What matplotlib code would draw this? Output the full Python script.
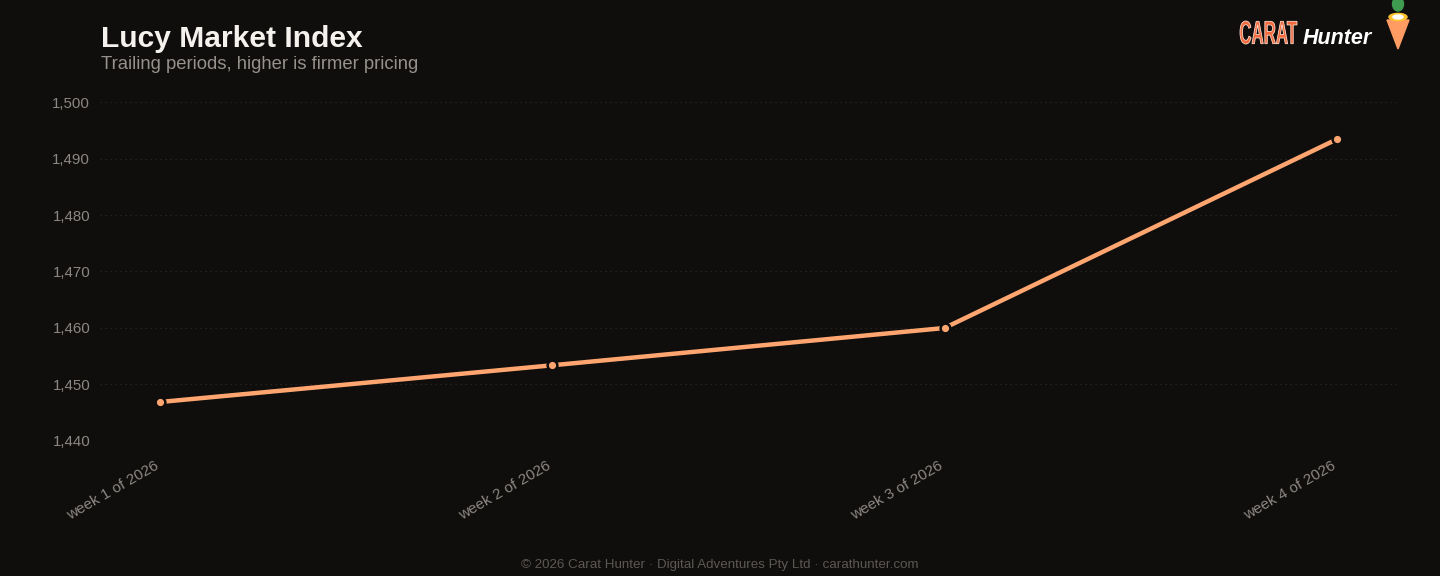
import numpy as np
import matplotlib.pyplot as plt
from matplotlib.patches import Polygon, Ellipse, Circle, PathPatch
from matplotlib.textpath import TextPath
from matplotlib.font_manager import FontProperties
from matplotlib.transforms import Affine2D, ScaledTranslation, IdentityTransform

weeks = ['week 1 of 2026', 'week 2 of 2026', 'week 3 of 2026', 'week 4 of 2026']
index_values = [1446.9, 1453.4, 1460.0, 1493.4]
y_ticks = [1440, 1450, 1460, 1470, 1480, 1490, 1500]

bg = '#0f0e0d'
line_c = '#ffa670'
tick_c = '#8c8782'

plt.rcParams['font.family'] = ['Liberation Sans', 'DejaVu Sans']

fig = plt.figure(figsize=(14.4, 5.76), dpi=100, facecolor=bg)
ax = fig.add_axes([0.0694, 0.2344, 0.9006, 0.5885], facecolor=bg)

x = np.arange(len(weeks))
ax.plot(x, index_values, color=line_c, lw=3.2, solid_capstyle='round', zorder=3)
ax.plot(x, index_values, ls='none', marker='o', ms=7, mfc=line_c, mec=bg, mew=1.8, zorder=4, clip_on=False)

ax.set_xlim(-0.153, 3.153)
ax.set_ylim(1440, 1500)
ax.set_yticks(y_ticks)
ax.set_yticklabels([f'{v:,}' for v in y_ticks])
ax.set_xticks(x)
ax.set_xticklabels(weeks, rotation=30, ha='right', rotation_mode='anchor')
ax.tick_params(axis='both', length=0, colors=tick_c, labelsize=11)
ax.tick_params(axis='y', labelsize=10.8, pad=7)
ax.tick_params(axis='x', pad=12.5)
shift = ScaledTranslation(-6 / 100, 0, fig.dpi_scale_trans)
for lbl in ax.get_xticklabels():
    lbl.set_transform(lbl.get_transform() + shift)
for s in ax.spines.values():
    s.set_visible(False)
ax.grid(axis='y', color='#2c2926', ls=(0, (1, 3)), lw=0.9)
ax.set_axisbelow(True)

fig.text(0.0701, 0.932, 'Lucy Market Index', color='#f5f2ee', fontsize=21.6, fontweight='bold', va='center')
fig.text(0.0701, 0.888, 'Trailing periods, higher is firmer pricing', color='#96918b', fontsize=13.3, va='center')
fig.text(0.5, 0.019, '\u00a9 2026 Carat Hunter \u00b7 Digital Adventures Pty Ltd \u00b7 carathunter.com',
         color='#5c5854', fontsize=9.6, ha='center', va='center')

# logo: tall condensed "CARAT" squeezed into its box
W, H = 1440, 576
tp = TextPath((0, 0), 'CARAT', size=20, prop=FontProperties(family='Liberation Sans', weight='bold'))
ext = tp.get_extents()
x0, x1, top, bot = 1240, 1297, 21, 44
sx = (x1 - x0) / ext.width
sy = (bot - top) / ext.height
tr = Affine2D().translate(-ext.x0, -ext.y0).scale(sx, sy).translate(x0, H - bot)
carat = PathPatch(tp, transform=tr + IdentityTransform(), facecolor='#f26a3d', edgecolor='#ffd9c9',
                  lw=0.6, zorder=5)
fig.add_artist(carat)
fig.text(0.9045, 0.933, 'Hunter', color='#ffffff', fontsize=15.5, fontweight='bold', style='italic', va='center')

def fx(px): return px / W
def fy(py): return 1 - py / H
fig.patches.append(Polygon([(fx(1387), fy(20)), (fx(1409), fy(20)), (fx(1398), fy(49))], closed=True,
                           transform=fig.transFigure, color='#ff9c63', zorder=5))
fig.patches.append(Ellipse((fx(1398), fy(4)), fx(11), 14 / H, transform=fig.transFigure, color='#3f9b4f', zorder=5))
fig.patches.append(Circle((fx(1398), fy(17)), 9 / W, transform=fig.transFigure, color='#ffc52e', zorder=6))
fig.patches.append(Circle((fx(1398), fy(17)), 5 / W, transform=fig.transFigure, color='#ffffff', zorder=7))

fig.savefig('out.png', dpi=100, facecolor=bg)
